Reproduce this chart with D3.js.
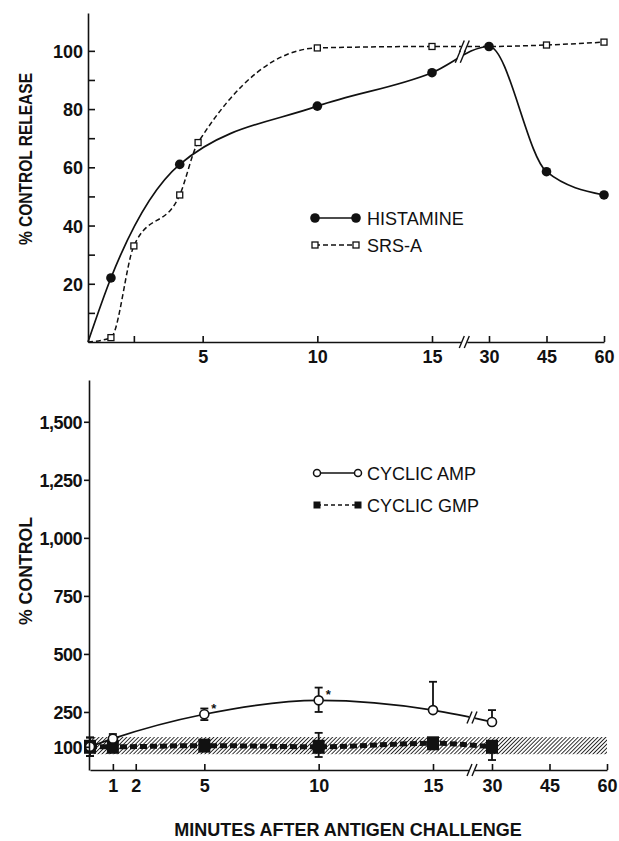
<!DOCTYPE html>
<html lang="en">
<head>
    <meta charset="UTF-8">
    <title>Histamine, SRS-A and cyclic nucleotides after antigen challenge</title>
    <style>
        body {
            margin: 0;
            background-color: #fff;
        }
        svg text {
            font-family: 'Liberation Sans', Arial, sans-serif;
            fill: #111;
        }
        .axis path, .axis line {
            stroke: #111;
            stroke-width: 1.6;
        }
        .axis text {
            font-size: 18px;
            font-weight: bold;
        }
        .legend text {
            font-size: 18px;
        }
    </style>
    <script src="https://d3js.org/d3.v7.min.js"></script>
</head>
<body>
    <div id="chart"></div>
    <script>
        // ---- data ----
        // upper panel: % control release
        var histTimes = [0, 1, 4, 10, 15, 30, 45, 60];
        var histValues = [0, 22, 61, 81, 92.5, 101.5, 58.5, 50.5];

        var srsTimes = [0, 1, 2, 4, 4.8, 10, 15, 30, 45, 60];
        var srsValues = [0, 1.5, 33, 50.5, 68.5, 101, 101.5, 101.5, 102, 103];
        var srsMarked = [false, true, true, true, true, true, true, false, true, true];

        // lower panel: % control
        var ampTimes = [0, 1, 5, 10, 15, 30];
        var ampValues = [100, 135, 240, 300, 258, 207];
        var ampErrHigh = [140, 155, 265, 355, 380, 258];
        var ampErrLow = [60, 120, 215, 250, 258, 207];
        var ampStar = [false, false, true, true, false, false];

        var gmpTimes = [0, 1, 5, 10, 15, 30];
        var gmpValues = [100, 100, 105, 100, 115, 100];
        var gmpErrHigh = [140, 100, 105, 160, 115, 100];
        var gmpErrLow = [60, 100, 105, 56, 115, 43];

        var controlBand = [68, 142];

        var topYTicks = [20, 40, 60, 80, 100];
        var topYMinor = [10, 30, 50, 70, 90];
        var topXTicks = [2, 5, 10, 15, 30, 45, 60];
        var topXLabels = ["", "5", "10", "15", "30", "45", "60"];
        var botYTicks = [100, 250, 500, 750, 1000, 1250, 1500];
        var botXTicks = [1, 2, 5, 10, 15, 30, 45, 60];

        var width = 619;
        var height = 841;

        var svg = d3.select("#chart")
            .append("svg")
            .attr("width", width)
            .attr("height", height);

        // hatch pattern for the control band
        var defs = svg.append("defs");
        defs.append("pattern")
            .attr("id", "hatch")
            .attr("patternUnits", "userSpaceOnUse")
            .attr("width", 2.8)
            .attr("height", 2.8)
            .attr("patternTransform", "rotate(45)")
            .append("line")
            .attr("x1", 0).attr("y1", 0)
            .attr("x2", 0).attr("y2", 2.8)
            .attr("stroke", "#111")
            .attr("stroke-width", 1.7);

        // the time axis is broken between 15 and 30 minutes
        var xTop = d3.scaleLinear().domain([0, 15, 30, 60]).range([88, 432, 489, 604]);
        var xBot = d3.scaleLinear().domain([0, 15, 30, 60]).range([90, 433, 492, 607]);
        var breakTime = 23.5;

        var yTop = d3.scaleLinear().domain([0, 113]).range([342, 13]);
        var yBot = d3.scaleLinear().domain([0, 1680]).range([770, 380]);

        // find a point on a drawn path at a given x
        function pointAtX(node, x) {
            var lo = 0, hi = node.getTotalLength();
            for (var i = 0; i < 40; i++) {
                var mid = (lo + hi) / 2;
                if (node.getPointAtLength(mid).x < x) lo = mid; else hi = mid;
            }
            return node.getPointAtLength(lo);
        }

        // the little "//" break symbol
        function drawBreak(g, bx, by) {
            g.append("rect")
                .attr("x", bx - 3).attr("y", by - 5)
                .attr("width", 6).attr("height", 10)
                .attr("fill", "#fff");
            [-3, 2].forEach(function(dx) {
                g.append("line")
                    .attr("x1", bx + dx - 2).attr("y1", by + 6)
                    .attr("x2", bx + dx + 3).attr("y2", by - 6)
                    .attr("stroke", "#111")
                    .attr("stroke-width", 1.4);
            });
        }

        // ================= upper panel =================
        var upper = svg.append("g");

        var histLine = d3.line()
            .x(function(d, i) { return xTop(histTimes[i]); })
            .y(function(d) { return yTop(d); })
            .curve(d3.curveMonotoneX);

        var srsLine = d3.line()
            .x(function(d, i) { return xTop(srsTimes[i]); })
            .y(function(d) { return yTop(d); })
            .curve(d3.curveMonotoneX);

        var srsPath = upper.append("path")
            .attr("d", srsLine(srsValues))
            .attr("fill", "none")
            .attr("stroke", "#111")
            .attr("stroke-width", 1.5)
            .attr("stroke-dasharray", "5,3");

        var histPath = upper.append("path")
            .attr("d", histLine(histValues))
            .attr("fill", "none")
            .attr("stroke", "#111")
            .attr("stroke-width", 1.7);

        var bx = xTop(breakTime);
        var ps = pointAtX(srsPath.node(), bx);
        var ph = pointAtX(histPath.node(), bx - 4);
        drawBreak(upper, bx, ps.y);
        drawBreak(upper, bx - 4, ph.y);

        // markers
        upper.selectAll(".srs")
            .data(srsTimes.filter(function(d, i) { return srsMarked[i]; }))
            .enter()
            .append("rect")
            .attr("x", function(d) { return xTop(d) - 3; })
            .attr("y", function(d) { return yTop(srsValues[srsTimes.indexOf(d)]) - 3; })
            .attr("width", 6)
            .attr("height", 6)
            .attr("fill", "#fff")
            .attr("stroke", "#111")
            .attr("stroke-width", 1.3);

        upper.selectAll(".hist")
            .data(histValues.slice(1))
            .enter()
            .append("circle")
            .attr("cx", function(d, i) { return xTop(histTimes[i + 1]); })
            .attr("cy", function(d) { return yTop(d); })
            .attr("r", 4.8)
            .attr("fill", "#111");

        // axes
        upper.append("g")
            .attr("class", "axis")
            .attr("transform", "translate(88,0)")
            .call(d3.axisLeft(yTop).tickValues(topYTicks).tickSizeInner(-7).tickSizeOuter(0).tickPadding(5))
            .call(function(g) { g.selectAll("text").attr("dy", "0.36em"); });

        upper.append("g")
            .attr("class", "axis")
            .attr("transform", "translate(88,0)")
            .call(d3.axisLeft(yTop).tickValues(topYMinor).tickSizeInner(-7).tickSizeOuter(0).tickFormat(""))
            .call(function(g) { g.select(".domain").remove(); });

        upper.append("g")
            .attr("class", "axis")
            .attr("transform", "translate(0,342)")
            .call(d3.axisBottom(xTop).tickValues(topXTicks).tickSizeInner(-6).tickSizeOuter(0).tickPadding(8)
                .tickFormat(function(d, i) { return topXLabels[i]; }));

        drawBreak(upper, xTop(breakTime), 342);

        // legend
        var legTop = upper.append("g").attr("class", "legend");
        legTop.append("line")
            .attr("x1", 315).attr("x2", 356).attr("y1", 218).attr("y2", 218)
            .attr("stroke", "#111").attr("stroke-width", 1.7);
        [315, 356].forEach(function(cx) {
            legTop.append("circle").attr("cx", cx).attr("cy", 218).attr("r", 4.8).attr("fill", "#111");
        });
        legTop.append("text").attr("x", 367).attr("y", 225).text("HISTAMINE");

        legTop.append("line")
            .attr("x1", 315).attr("x2", 356).attr("y1", 245).attr("y2", 245)
            .attr("stroke", "#111").attr("stroke-width", 1.5).attr("stroke-dasharray", "5,3");
        [315, 356].forEach(function(cx) {
            legTop.append("rect").attr("x", cx - 3).attr("y", 242).attr("width", 6).attr("height", 6)
                .attr("fill", "#fff").attr("stroke", "#111").attr("stroke-width", 1.3);
        });
        legTop.append("text").attr("x", 367).attr("y", 252).text("SRS-A");

        upper.append("text")
            .attr("transform", "translate(32,159) rotate(-90)")
            .attr("text-anchor", "middle")
            .attr("textLength", 172)
            .attr("lengthAdjust", "spacingAndGlyphs")
            .style("font-size", "19px")
            .style("font-weight", "bold")
            .text("% CONTROL RELEASE");

        // ================= lower panel =================
        var lower = svg.append("g");

        // shaded control range
        lower.append("rect")
            .attr("x", xBot(0))
            .attr("y", yBot(controlBand[1]))
            .attr("width", xBot(60) - xBot(0))
            .attr("height", yBot(controlBand[0]) - yBot(controlBand[1]))
            .attr("fill", "url(#hatch)");

        var ampLine = d3.line()
            .x(function(d, i) { return xBot(ampTimes[i]); })
            .y(function(d) { return yBot(d); })
            .curve(d3.curveMonotoneX);

        var gmpLine = d3.line()
            .x(function(d, i) { return xBot(gmpTimes[i]); })
            .y(function(d) { return yBot(d); })
            .curve(d3.curveMonotoneX);

        lower.append("path")
            .attr("d", gmpLine(gmpValues))
            .attr("fill", "none")
            .attr("stroke", "#111")
            .attr("stroke-width", 5)
            .attr("stroke-dasharray", "7,3");

        var ampPath = lower.append("path")
            .attr("d", ampLine(ampValues))
            .attr("fill", "none")
            .attr("stroke", "#111")
            .attr("stroke-width", 1.7);

        var ab = pointAtX(ampPath.node(), 472);
        drawBreak(lower, 472, ab.y);

        // error bars, with a cap on every end that leaves the point
        function errorBars(g, times, values, hi, lo) {
            times.forEach(function(t, i) {
                var x = xBot(t);
                if (hi[i] === lo[i]) return;
                g.append("line")
                    .attr("x1", x).attr("x2", x)
                    .attr("y1", yBot(hi[i])).attr("y2", yBot(lo[i]))
                    .attr("stroke", "#111").attr("stroke-width", 1.8);
                [hi[i], lo[i]].forEach(function(v) {
                    if (v === values[i]) return;
                    g.append("line")
                        .attr("x1", x - 4).attr("x2", x + 4)
                        .attr("y1", yBot(v)).attr("y2", yBot(v))
                        .attr("stroke", "#111").attr("stroke-width", 1.8);
                });
            });
        }

        errorBars(lower, gmpTimes, gmpValues, gmpErrHigh, gmpErrLow);
        errorBars(lower, ampTimes, ampValues, ampErrHigh, ampErrLow);

        lower.selectAll(".gmp")
            .data(gmpValues)
            .enter()
            .append("rect")
            .attr("x", function(d, i) { return xBot(gmpTimes[i]) - 6; })
            .attr("y", function(d) { return yBot(d) - 7; })
            .attr("width", 12)
            .attr("height", 14)
            .attr("fill", "#111");

        lower.selectAll(".amp")
            .data(ampValues)
            .enter()
            .append("circle")
            .attr("cx", function(d, i) { return xBot(ampTimes[i]); })
            .attr("cy", function(d) { return yBot(d); })
            .attr("r", 4.5)
            .attr("fill", "#fff")
            .attr("stroke", "#111")
            .attr("stroke-width", 1.6);

        lower.selectAll(".star")
            .data(ampTimes.filter(function(d, i) { return ampStar[i]; }))
            .enter()
            .append("text")
            .attr("x", function(d) { return xBot(d) + 7; })
            .attr("y", function(d) { return yBot(ampValues[ampTimes.indexOf(d)]) - 1; })
            .style("font-size", "13px")
            .style("font-weight", "bold")
            .text("*");

        // axes
        lower.append("g")
            .attr("class", "axis")
            .attr("transform", "translate(89,0)")
            .call(d3.axisLeft(yBot).tickValues(botYTicks).tickSizeInner(5).tickSizeOuter(0).tickPadding(2)
                .tickFormat(d3.format(",")))
            .call(function(g) { g.selectAll("text").attr("dy", "0.36em").attr("letter-spacing", "-0.5px"); });

        lower.append("g")
            .attr("class", "axis")
            .attr("transform", "translate(0,770)")
            .call(d3.axisBottom(xBot).tickValues(botXTicks).tickSizeInner(-6).tickSizeOuter(0).tickPadding(9));

        drawBreak(lower, 472, 770);

        // legend
        var legBot = lower.append("g").attr("class", "legend");
        legBot.append("line")
            .attr("x1", 317).attr("x2", 358).attr("y1", 473).attr("y2", 473)
            .attr("stroke", "#111").attr("stroke-width", 1.6);
        [317, 358].forEach(function(cx) {
            legBot.append("circle").attr("cx", cx).attr("cy", 473).attr("r", 3.5)
                .attr("fill", "#fff").attr("stroke", "#111").attr("stroke-width", 1.5);
        });
        legBot.append("text").attr("x", 367).attr("y", 480).text("CYCLIC AMP");

        legBot.append("line")
            .attr("x1", 317).attr("x2", 358).attr("y1", 505).attr("y2", 505)
            .attr("stroke", "#111").attr("stroke-width", 1.5).attr("stroke-dasharray", "4,3");
        [317, 358].forEach(function(cx) {
            legBot.append("rect").attr("x", cx - 3.5).attr("y", 501.5).attr("width", 7).attr("height", 7)
                .attr("fill", "#111");
        });
        legBot.append("text").attr("x", 367).attr("y", 512).text("CYCLIC GMP");

        lower.append("text")
            .attr("transform", "translate(32,571) rotate(-90)")
            .attr("text-anchor", "middle")
            .attr("textLength", 108)
            .attr("lengthAdjust", "spacingAndGlyphs")
            .style("font-size", "19px")
            .style("font-weight", "bold")
            .text("% CONTROL");

        svg.append("text")
            .attr("x", 348)
            .attr("y", 836)
            .attr("text-anchor", "middle")
            .style("font-size", "18px")
            .style("font-weight", "bold")
            .text("MINUTES AFTER ANTIGEN CHALLENGE");
    </script>
</body>
</html>
